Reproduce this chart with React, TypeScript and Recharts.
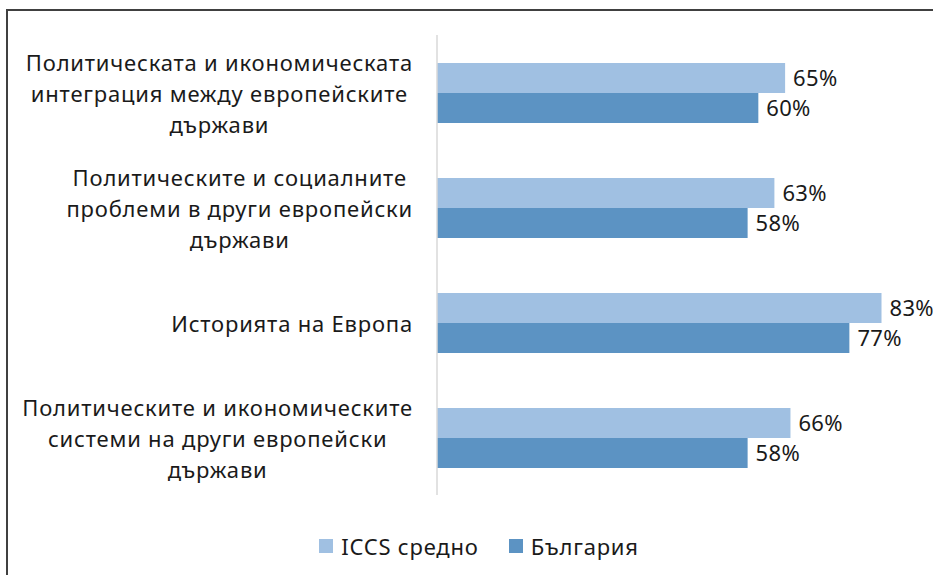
import { BarChart, Bar, XAxis, YAxis, LabelList } from "recharts";

const categories = [
  "Политическата и икономическата\nинтеграция между европейските\nдържави",
  "Политическите и социалните\nпроблеми в други европейски\nдържави",
  "Историята на Европа",
  "Политическите и икономическите\nсистеми на други европейски\nдържави",
];
const iccsAverage = [65, 63, 83, 66];
const bulgaria = [60, 58, 77, 58];
const seriesNames = ["ICCS средно", "България"];
const colors = ["#a0c0e2", "#5c93c3"];

const FONT = "'Noto Sans', 'DejaVu Sans', sans-serif";
const FS = 22;
const LS = 0.8;

const data = categories.map((name, i) => ({
  name,
  iccs: iccsAverage[i],
  bg: bulgaria[i],
}));

let ctx: CanvasRenderingContext2D | null = null;
function measure(text: string) {
  if (!ctx) ctx = document.createElement("canvas").getContext("2d");
  if (!ctx) return text.length * 13;
  ctx.font = `${FS}px ${FONT}`;
  return ctx.measureText(text).width + text.length * LS;
}

function CategoryTick(props: any) {
  const { x, y, payload } = props;
  const lines: string[] = String(payload.value).split("\n");
  const maxW = Math.max(...lines.map(measure));
  const right = x - 16;
  const cx = right - maxW / 2;
  const lh = 31;
  const start = y - ((lines.length - 1) * lh) / 2;
  return (
    <text
      fontSize={FS}
      fontFamily={FONT}
      fill="#1a1a1a"
      textAnchor="middle"
      dominantBaseline="central"
      style={{ letterSpacing: LS }}
    >
      {lines.map((l, i) => (
        <tspan key={i} x={cx} y={start + i * lh}>
          {l}
        </tspan>
      ))}
    </text>
  );
}

const labelStyle = { fontSize: FS, fontFamily: FONT, fill: "#1a1a1a", letterSpacing: 0.3 };

export default function App() {
  return (
    <div style={{ position: "absolute", top: 0, left: 0, width: 933, height: 575, overflow: "hidden", background: "#fff" }}>
      <div
        style={{
          position: "absolute",
          left: 6,
          top: 9,
          width: 1000,
          height: 700,
          borderLeft: "2px solid #404040",
          borderTop: "2px solid #404040",
        }}
      />
      <BarChart
        layout="vertical"
        width={933}
        height={575}
        data={data}
        margin={{ top: 35, right: 14, bottom: 80, left: 0 }}
        barGap={0}
        barSize={30}
        style={{ position: "absolute", top: 0, left: 0 }}
      >
        <XAxis type="number" domain={[0, 90]} hide />
        <YAxis
          type="category"
          dataKey="name"
          width={437}
          axisLine={{ stroke: "#d9d9d9", strokeWidth: 1.5 }}
          tickLine={false}
          tick={<CategoryTick />}
          interval={0}
        />
        <Bar dataKey="iccs" name={seriesNames[0]} fill={colors[0]} isAnimationActive={false}>
          <LabelList
            dataKey="iccs"
            position="right"
            offset={8}
            formatter={(v: any) => `${v}%`}
            style={labelStyle}
          />
        </Bar>
        <Bar dataKey="bg" name={seriesNames[1]} fill={colors[1]} isAnimationActive={false}>
          <LabelList
            dataKey="bg"
            position="right"
            offset={8}
            formatter={(v: any) => `${v}%`}
            style={labelStyle}
          />
        </Bar>
      </BarChart>
      <div
        style={{
          position: "absolute",
          top: 530,
          left: 0,
          width: 958,
          display: "flex",
          justifyContent: "center",
          gap: 30,
          fontFamily: FONT,
          fontSize: FS,
          letterSpacing: LS,
          color: "#1a1a1a",
          lineHeight: "32px",
        }}
      >
        {seriesNames.map((s, i) => (
          <div key={s} style={{ display: "flex", alignItems: "center", gap: 8 }}>
            <span style={{ width: 14, height: 14, background: colors[i], display: "inline-block" }} />
            <span>{s}</span>
          </div>
        ))}
      </div>
    </div>
  );
}
